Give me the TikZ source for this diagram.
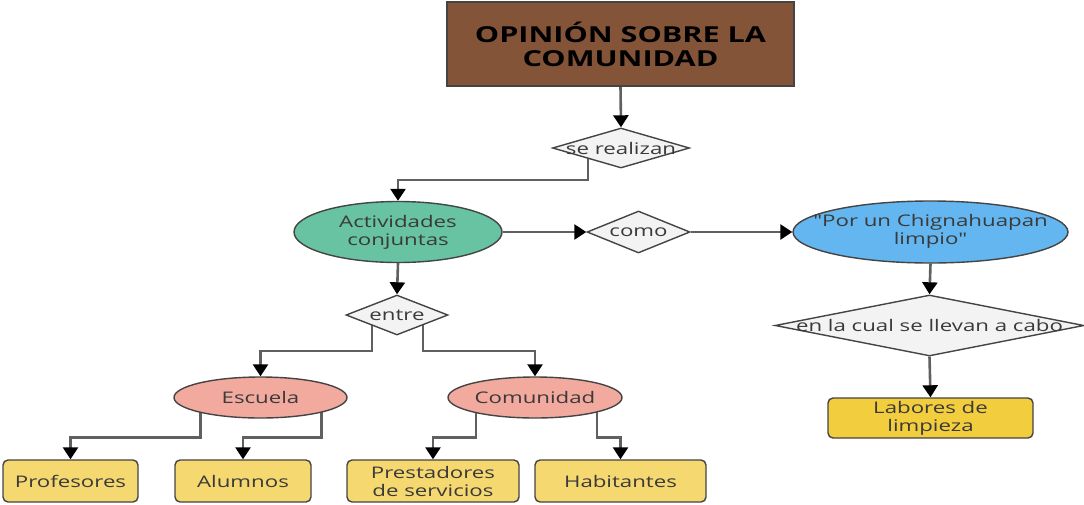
\documentclass[tikz,border=0pt]{standalone}
\usepackage{fontspec}
\setmainfont{Open Sans}[FakeStretch=1.39, Ligatures=TeXOff]
\usetikzlibrary{shapes.geometric,arrows.meta,backgrounds}
\definecolor{brownbox}{HTML}{845439}
\definecolor{greenell}{HTML}{67C3A1}
\definecolor{blueell}{HTML}{63B6EF}
\definecolor{pinkell}{HTML}{F2A99E}
\definecolor{paleyel}{HTML}{F5D870}
\definecolor{deepyel}{HTML}{F2CD3D}
\definecolor{diafill}{HTML}{F3F3F3}
\definecolor{edge}{HTML}{606060}
\definecolor{border}{HTML}{444444}
\definecolor{txt}{HTML}{3A3A3A}
% keeps a (possibly multi-line) label from widening its shape
\newcommand{\zerowide}[1]{\makebox[0pt]{\begin{tabular}{@{}c@{}}#1\end{tabular}}}
\tikzset{
  base/.style={draw=border, line width=1.4pt, inner sep=0pt, align=center,
    text=txt, font=\fontsize{16}{18}\selectfont},
  titlebox/.style={base, rectangle, fill=brownbox, text=black,
    font=\fontsize{22}{24}\selectfont\bfseries},
  ell/.style={base, ellipse},
  dia/.style={base, diamond, fill=diafill},
  leaf/.style={base, rectangle, rounded corners=5pt, fill=paleyel},
  arr/.style={draw=edge, line width=2.6pt,
    -{Triangle[width=15pt,length=12pt,color=black]}},
}
\begin{document}
\begin{tikzpicture}[x=1pt,y=-1pt]
\useasboundingbox (0,0) rectangle (1084,504);
% nodes
\node[titlebox, minimum width=347pt, minimum height=84pt] (title) at (620.5,44)
  {OPINIÓN SOBRE LA\\COMUNIDAD};
\node[dia, minimum width=137pt, minimum height=40pt] (sr) at (621,148)
  {\makebox[0pt]{se realizan}};
\node[ell, fill=greenell, minimum width=208pt, minimum height=61pt] (act) at (398,232)
  {Actividades\\conjuntas};
\node[dia, minimum width=103pt, minimum height=42pt] (como) at (638.5,232)
  {\makebox[0pt]{como}};
\node[ell, fill=blueell, minimum width=275pt, minimum height=62pt] (blue) at (930.5,232)
  {\zerowide{"Por un Chignahuapan\\limpio"}};
\node[dia, minimum width=309pt, minimum height=61pt] (cual) at (929.5,325.5)
  {\makebox[0pt]{en la cual se llevan a cabo}};
\node[leaf, fill=deepyel, minimum width=205pt, minimum height=40pt] (lab) at (930.5,418)
  {Labores de\\limpieza};
\node[dia, minimum width=102pt, minimum height=40pt] (entre) at (397,315)
  {\makebox[0pt]{entre}};
\node[ell, fill=pinkell, minimum width=173pt, minimum height=41pt] (esc) at (260.5,397.5)
  {Escuela};
\node[ell, fill=pinkell, minimum width=174pt, minimum height=41pt] (com) at (535,397.5)
  {Comunidad};
\node[leaf, minimum width=135pt, minimum height=42pt] (prof) at (70.5,481)
  {Profesores};
\node[leaf, minimum width=136pt, minimum height=42pt] (alu) at (243,481)
  {Alumnos};
\node[leaf, minimum width=172pt, minimum height=42pt] (prest) at (433,481)
  {Prestadores\\de servicios};
\node[leaf, minimum width=171pt, minimum height=42pt] (hab) at (620.5,481)
  {Habitantes};
% connectors
\begin{pgfonlayer}{background}
\draw[arr] (title.south) -- (sr.north);
\draw[arr] ([xshift=-33pt]sr.center) -- ++(0,32) -| (act.north);
\draw[arr] (act.east) -- (como.west);
\draw[arr] (como.east) -- (blue.west);
\draw[arr] (blue.south) -- (cual.north);
\draw[arr] (cual.south) -- (lab.north);
\draw[arr] (act.south) -- (entre.north);
\draw[arr] ([xshift=-25pt]entre.center) -- ++(0,36) -| (esc.north);
\draw[arr] ([xshift=26pt]entre.center) -- ++(0,36) -| (com.north);
\draw[arr] ([xshift=-60pt]esc.center) -- ++(0,40) -| (prof.north);
\draw[arr] ([xshift=61pt]esc.center) -- ++(0,40) -| (alu.north);
\draw[arr] ([xshift=-59pt]com.center) -- ++(0,40) -| (prest.north);
\draw[arr] ([xshift=62pt]com.center) -- ++(0,40) -| (hab.north);
\end{pgfonlayer}
\end{tikzpicture}
\end{document}
